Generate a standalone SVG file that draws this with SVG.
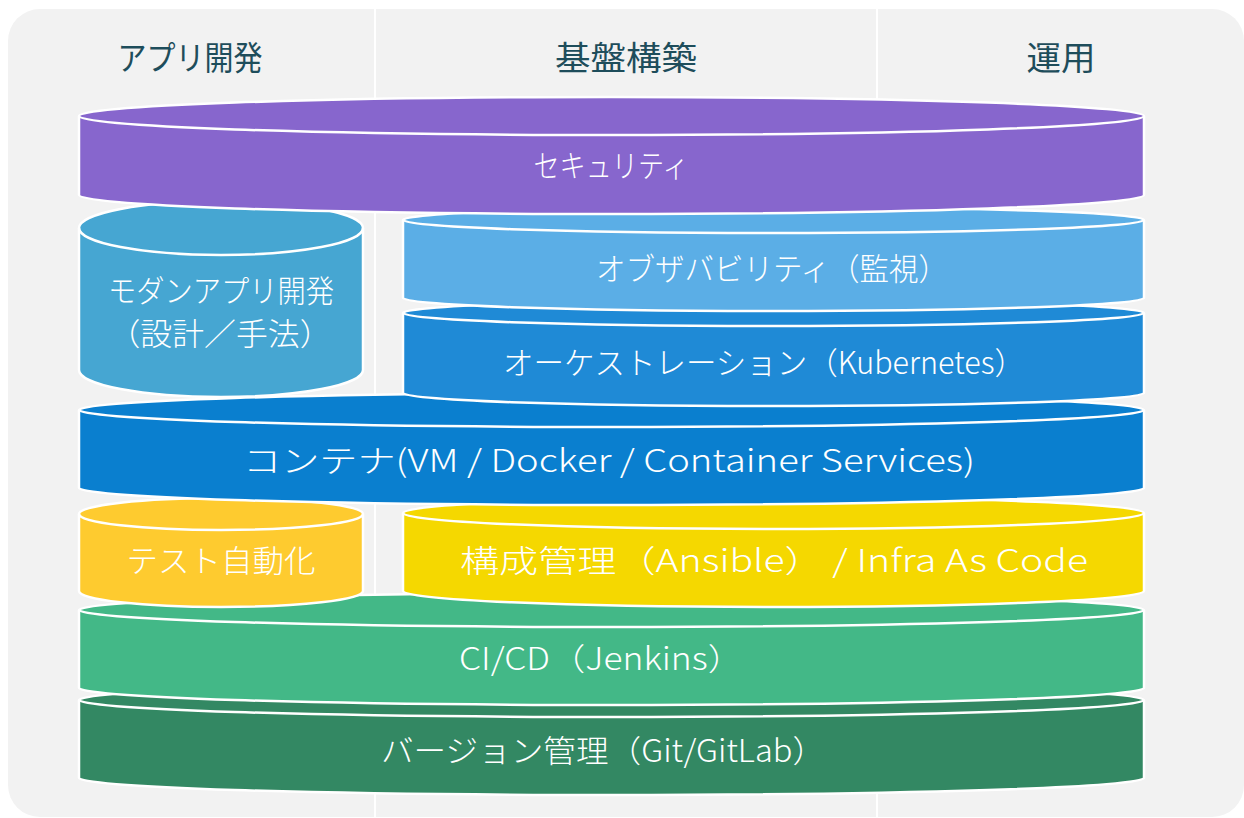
<svg xmlns="http://www.w3.org/2000/svg" width="1244" height="818" viewBox="0 0 1244 818">
<style>
.can{stroke:#ffffff;stroke-width:2.5;stroke-linejoin:round}
.rim{fill:none;stroke:#ffffff;stroke-width:2.5}
.lbl{font-family:"Noto Sans CJK JP","Noto Sans",sans-serif;font-size:31px;font-weight:300;fill:#ffffff;text-anchor:middle;dominant-baseline:central}
.hdr{font-family:"Noto Sans CJK JP","Noto Sans",sans-serif;font-size:33px;font-weight:400;fill:#1e4d5b;text-anchor:middle;dominant-baseline:central}
.div{stroke:#ffffff;stroke-width:2}
</style>
<rect x="0" y="0" width="1244" height="818" fill="#ffffff"/>
<rect x="8" y="9" width="1236" height="808" rx="32" fill="#f2f2f2"/>
<g id="dividers">
<line class="div" x1="375" y1="9" x2="375" y2="818"/>
<line class="div" x1="877" y1="9" x2="877" y2="818"/>
</g>
<g id="headers">
<text class="hdr" x="190" y="56" textLength="145" lengthAdjust="spacingAndGlyphs">アプリ開発</text>
<text class="hdr" x="626" y="56" textLength="142" lengthAdjust="spacingAndGlyphs">基盤構築</text>
<text class="hdr" x="1061" y="56" textLength="69" lengthAdjust="spacingAndGlyphs">運用</text>
</g>
<g id="version">
<path class="can" fill="#338863" d="M79,700 V778 A532.5,17 0 0 0 1144,778 V700 A532.5,17 0 0 0 79,700 Z"/>
<path class="rim" d="M79,700 A532.5,17 0 0 0 1144,700"/>
<text class="lbl" x="603" y="748" textLength="444" lengthAdjust="spacingAndGlyphs">バージョン管理（Git/GitLab）</text>
</g>
<g id="cicd">
<path class="can" fill="#43b887" d="M79,610 V688 A532.5,17 0 0 0 1144,688 V610 A532.5,17 0 0 0 79,610 Z"/>
<path class="rim" d="M79,610 A532.5,17 0 0 0 1144,610"/>
<text class="lbl" x="601" y="656" textLength="284" lengthAdjust="spacingAndGlyphs">CI/CD（Jenkins）</text>
</g>
<g id="test">
<path class="can" fill="#fecb2f" d="M79,514 V591 A142,16 0 0 0 363,591 V514 A142,16 0 0 0 79,514 Z"/>
<path class="rim" d="M79,514 A142,16 0 0 0 363,514"/>
<text class="lbl" x="221" y="558" textLength="189" lengthAdjust="spacingAndGlyphs">テスト自動化</text>
</g>
<g id="config">
<path class="can" fill="#f5d800" d="M403,513 V591 A370.5,16 0 0 0 1144,591 V513 A370.5,16 0 0 0 403,513 Z"/>
<path class="rim" d="M403,513 A370.5,16 0 0 0 1144,513"/>
<text class="lbl" x="774" y="558" textLength="628" lengthAdjust="spacingAndGlyphs">構成管理（Ansible） / Infra As Code</text>
</g>
<g id="container">
<path class="can" fill="#0a7fcf" d="M79,410 V488 A532.5,17 0 0 0 1144,488 V410 A532.5,17 0 0 0 79,410 Z"/>
<path class="rim" d="M79,410 A532.5,17 0 0 0 1144,410"/>
<text class="lbl" x="609" y="458" textLength="732" lengthAdjust="spacingAndGlyphs">コンテナ(VM / Docker / Container Services)</text>
</g>
<g id="orchestration">
<path class="can" fill="#1f8ad6" d="M403,313 V393 A370.5,13 0 0 0 1144,393 V313 A370.5,13 0 0 0 403,313 Z"/>
<path class="rim" d="M403,313 A370.5,13 0 0 0 1144,313"/>
<text class="lbl" x="764" y="360" textLength="522" lengthAdjust="spacingAndGlyphs">オーケストレーション（Kubernetes）</text>
</g>
<g id="observability">
<path class="can" fill="#5baee6" d="M403,220 V298 A370.5,13 0 0 0 1144,298 V220 A370.5,13 0 0 0 403,220 Z"/>
<path class="rim" d="M403,220 A370.5,13 0 0 0 1144,220"/>
<text class="lbl" x="772" y="266" textLength="352" lengthAdjust="spacingAndGlyphs">オブザバビリティ（監視）</text>
</g>
<g id="modern-app">
<path class="can" fill="#46a6d2" d="M79,228 V370 A142,27 0 0 0 363,370 V228 A142,27 0 0 0 79,228 Z"/>
<path class="rim" d="M79,228 A142,27 0 0 0 363,228"/>
<text class="lbl" x="221" y="288" textLength="226" lengthAdjust="spacingAndGlyphs">モダンアプリ開発</text>
<text class="lbl" x="220" y="331" textLength="223" lengthAdjust="spacingAndGlyphs">（設計／手法）</text>
</g>
<g id="security">
<path class="can" fill="#8766cd" d="M79,116 V195 A532.5,19 0 0 0 1144,195 V116 A532.5,19 0 0 0 79,116 Z"/>
<path class="rim" d="M79,116 A532.5,19 0 0 0 1144,116"/>
<text class="lbl" x="611" y="163" textLength="155" lengthAdjust="spacingAndGlyphs">セキュリティ</text>
</g>
</svg>
